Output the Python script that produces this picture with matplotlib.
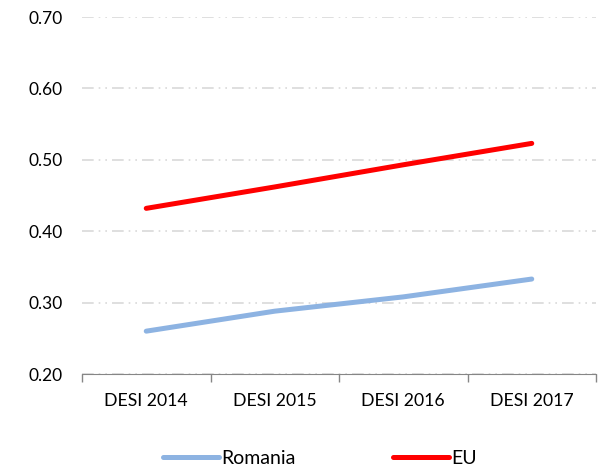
import matplotlib.pyplot as plt
from matplotlib.ticker import FixedLocator, NullFormatter

plt.rcParams['font.family'] = ['Lato', 'DejaVu Sans']

categories = ['DESI 2014', 'DESI 2015', 'DESI 2016', 'DESI 2017']
romania = [0.260, 0.288, 0.308, 0.333]
eu = [0.432, 0.462, 0.493, 0.523]
yticks = [0.20, 0.30, 0.40, 0.50, 0.60, 0.70]

fig = plt.figure(figsize=(6.02, 4.69), dpi=100)
ax = fig.add_axes([82 / 602, 1 - 374 / 469, (596 - 82) / 602, (374 - 17) / 469])

x = range(len(categories))
ax.plot(x, romania, color='#8db3e2', lw=3.6, solid_capstyle='round', label='Romania')
ax.plot(x, eu, color='#ff0000', lw=3.6, solid_capstyle='round', label='EU')

ax.set_xlim(-0.5, len(categories) - 0.5)
ax.set_ylim(0.2, 0.7)
ax.set_yticks(yticks)
ax.set_yticklabels([f'{v:.2f}' for v in yticks], fontsize=12.5)
ax.set_xticks(list(x))
ax.set_xticklabels(categories, fontsize=12.7)
ax.tick_params(axis='x', which='major', length=0, pad=14)
ax.tick_params(axis='y', length=0, pad=14)
ax.xaxis.set_minor_locator(FixedLocator([i - 0.5 for i in range(len(categories) + 1)]))
ax.xaxis.set_minor_formatter(NullFormatter())
ax.tick_params(axis='x', which='minor', length=6, color='#868686', width=1)

ax.grid(axis='y', color='#d9d9d9', lw=1.2, linestyle=(0, (7, 3, 1, 3, 1, 3)))
ax.set_axisbelow(True)
for s in ['top', 'right', 'left']:
    ax.spines[s].set_visible(False)
ax.spines['bottom'].set_color('#868686')

fig.legend(loc='lower center', bbox_to_anchor=(0.532, -0.032), ncol=2, frameon=False,
           fontsize=14, handlelength=2.85, handletextpad=0.15, columnspacing=5.0)

fig.savefig('out.png', dpi=100)
